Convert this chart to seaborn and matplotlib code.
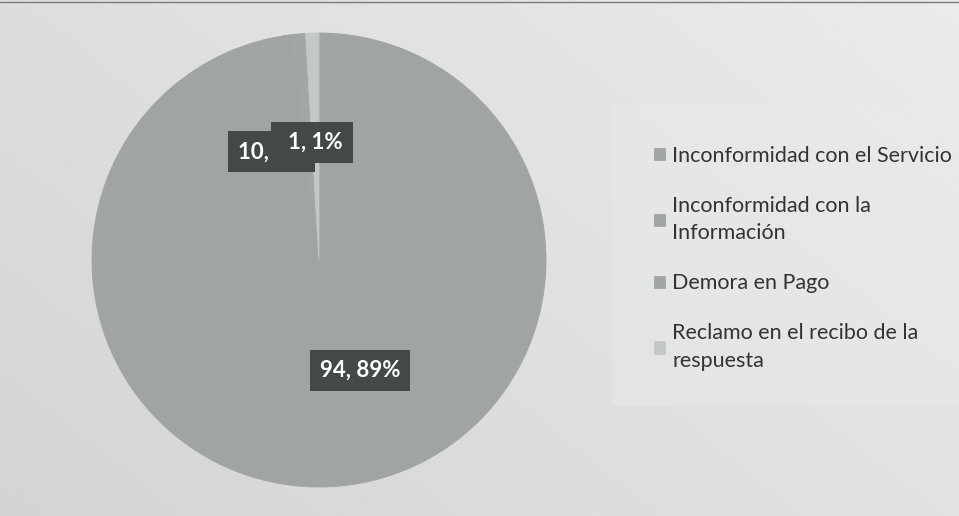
import numpy as np
import matplotlib
matplotlib.use("Agg")
import matplotlib.pyplot as plt
from matplotlib.patches import Rectangle
import seaborn as sns

# Reasons for complaints and their counts
categories = [
    "Inconformidad con el Servicio",
    "Inconformidad con la\nInformación",
    "Demora en Pago",
    "Reclamo en el recibo de la\nrespuesta",
]
counts = [94, 10, 1, 1]
slice_colors = ["#a0a4a2", "#a0a4a2", "#a2a6a4", "#c3c7c5"]

sns.set_theme(style="white")
plt.rcParams["font.family"] = ["Lato", "DejaVu Sans"]

fig = plt.figure(figsize=(9.59, 5.16), dpi=100)
fig.patch.set_facecolor("#d9dbd9")
W, H = 959, 516

# soft background shading, lighter toward the upper right
bg = fig.add_axes([0, 0, 1, 1], zorder=-10)
yy, xx = np.mgrid[0:1:200j, 0:1:300j]
shade = 0.83 + 0.09 * (xx * 0.6 + yy * 0.4)
bg.imshow(shade, cmap="gray", vmin=0, vmax=1, extent=[0, 1, 0, 1],
          origin="lower", aspect="auto")
bg.add_patch(Rectangle((612 / W, 1 - 405 / H), 1 - 612 / W, 300 / H,
                       facecolor="#ebecec", edgecolor="none", alpha=0.4))
bg.plot([0, 1], [0.996, 0.996], color="#7a7a7a", lw=1)
bg.set_xlim(0, 1)
bg.set_ylim(0, 1)
bg.axis("off")

cx, cy, r = 319, 260, 227
ax = fig.add_axes([(cx - r) / W, (H - cy - r) / H, 2 * r / W, 2 * r / H])

total = sum(counts)
wedges, _ = ax.pie(
    counts,
    colors=slice_colors,
    startangle=90,
    counterclock=False,
)
for w in wedges:
    w.set_edgecolor(w.get_facecolor())
    w.set_linewidth(0.6)
ax.set_xlim(-1, 1)
ax.set_ylim(-1, 1)
ax.set_aspect("equal")

# value / percent labels placed inside each wedge
for w, v in zip(wedges, counts):
    mid = np.deg2rad((w.theta1 + w.theta2) / 2)
    d = 0.52 * w.r
    ax.text(
        d * np.cos(mid), d * np.sin(mid),
        f"{v}, {round(100 * v / total)}%",
        ha="center", va="center", color="white",
        fontsize=16, fontweight="bold",
        bbox=dict(boxstyle="square,pad=0.45", facecolor="#434947",
                  edgecolor="none"),
    )

leg = fig.legend(
    wedges, categories,
    loc="upper left", bbox_to_anchor=(628 / W, 1 - 120 / H),
    frameon=False, fontsize=15.5, handlelength=0.5, handleheight=0.5,
    handletextpad=0.35, labelspacing=1.4, borderpad=0.7,
)
for t in leg.get_texts():
    t.set_color("#333333")
    t.set_linespacing(1.45)

fig.savefig("out.png", dpi=100, facecolor=fig.get_facecolor())
